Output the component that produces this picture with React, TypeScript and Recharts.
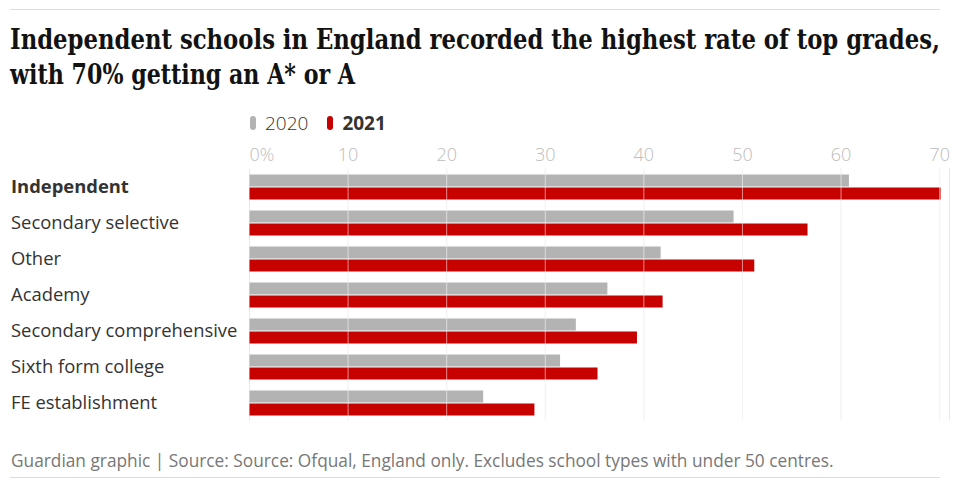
import { BarChart, Bar, XAxis, YAxis, CartesianGrid, ReferenceLine } from 'recharts';

const categories = [
  'Independent',
  'Secondary selective',
  'Other',
  'Academy',
  'Secondary comprehensive',
  'Sixth form college',
  'FE establishment',
];
const values2020 = [60.8, 49.1, 41.7, 36.3, 33.1, 31.5, 23.7];
const values2021 = [70.1, 56.6, 51.2, 41.9, 39.3, 35.3, 28.9];
const xTicks = [0, 10, 20, 30, 40, 50, 60, 70];
const seriesNames = ['2020', '2021'];
const titleLines = ['Independent schools in England recorded the highest rate of top grades,', 'with 70% getting an A* or A'];

const data = categories.map((name, i) => ({ name, y2020: values2020[i], y2021: values2021[i] }));

const GREY = '#b3b3b3';
const RED = '#c70000';
const SANS = '"Open Sans", "Noto Sans", sans-serif';

function TopTick(props: any) {
  const { x, y, payload } = props;
  const first = payload.value === 0;
  return (
    <text
      x={x}
      y={y}
      dy={0}
      textAnchor={first ? 'start' : 'middle'}
      fill="#bdbdbd"
      fontSize={18}
      fontFamily={SANS}
      fontWeight={300}
    >
      {first ? '0%' : payload.value}
    </text>
  );
}

function CategoryTick(props: any) {
  const { y, payload } = props;
  const bold = payload.value === 'Independent';
  return (
    <text
      x={11}
      y={y}
      dy={6}
      textAnchor="start"
      fill="#333"
      fontSize={18.4}
      fontFamily={SANS}
      fontWeight={bold ? 700 : 400}
    >
      {payload.value}
    </text>
  );
}

export default function App() {
  return (
    <div style={{ position: 'relative', width: 953, height: 482, background: '#fff', fontFamily: SANS, overflow: 'hidden' }}>
      <style>{'body{margin:0}'}</style>
      <div style={{ position: 'absolute', left: 10, top: 9, width: 930, borderTop: '1px solid #dcdcdc' }} />
      <svg width={953} height={100} style={{ position: 'absolute', left: 0, top: 0 }}>
        <g fontFamily='"DejaVu Serif", serif' fontWeight={700} fontSize={28} fill="#121212">
          <text x={10} y={49} textLength={930} lengthAdjust="spacingAndGlyphs">{titleLines[0]}</text>
          <text x={10} y={84} textLength={345} lengthAdjust="spacingAndGlyphs">{titleLines[1]}</text>
        </g>
      </svg>

      <div style={{ position: 'absolute', left: 250, top: 110, display: 'flex', alignItems: 'center', fontSize: 19, color: '#333' }}>
        <span style={{ display: 'inline-block', width: 6, height: 14, borderRadius: 3, background: GREY, marginRight: 9 }} />
        <span style={{ fontWeight: 300 }}>{seriesNames[0]}</span>
        <span style={{ display: 'inline-block', width: 6, height: 14, borderRadius: 3, background: RED, marginLeft: 19, marginRight: 9 }} />
        <span style={{ fontWeight: 700 }}>{seriesNames[1]}</span>
      </div>

      <div style={{ position: 'absolute', left: 0, top: 0 }}>
        <BarChart
          width={953}
          height={482}
          data={data}
          layout="vertical"
          margin={{ top: 138.5, right: 3.5, bottom: 61.5, left: 0 }}
          barSize={12}
          barGap={1}
          barCategoryGap={5.5}
        >
          <CartesianGrid horizontal={false} stroke="#e8e8e8" />
          <XAxis
            type="number"
            orientation="top"
            domain={[0, 71]}
            ticks={xTicks}
            height={30}
            axisLine={false}
            tickLine={false}
            tick={<TopTick />}
            interval={0}
          />
          <YAxis
            type="category"
            dataKey="name"
            width={249.5}
            axisLine={false}
            tickLine={false}
            tick={<CategoryTick />}
            interval={0}
          />
          <Bar dataKey="y2020" fill={GREY} isAnimationActive={false} />
          <Bar dataKey="y2021" fill={RED} isAnimationActive={false} />
          {xTicks.slice(1).map((t) => (
            <ReferenceLine key={t} x={t} stroke="#ffffff" strokeOpacity={0.55} />
          ))}
        </BarChart>
      </div>

      <div style={{ position: 'absolute', left: 11, top: 449, fontSize: 17.3, color: '#777', whiteSpace: 'nowrap' }}>
        Guardian graphic | Source: Source: Ofqual, England only. Excludes school types with under 50 centres.
      </div>
      <div style={{ position: 'absolute', left: 10, top: 477, width: 930, borderTop: '1px solid #dcdcdc' }} />
    </div>
  );
}
